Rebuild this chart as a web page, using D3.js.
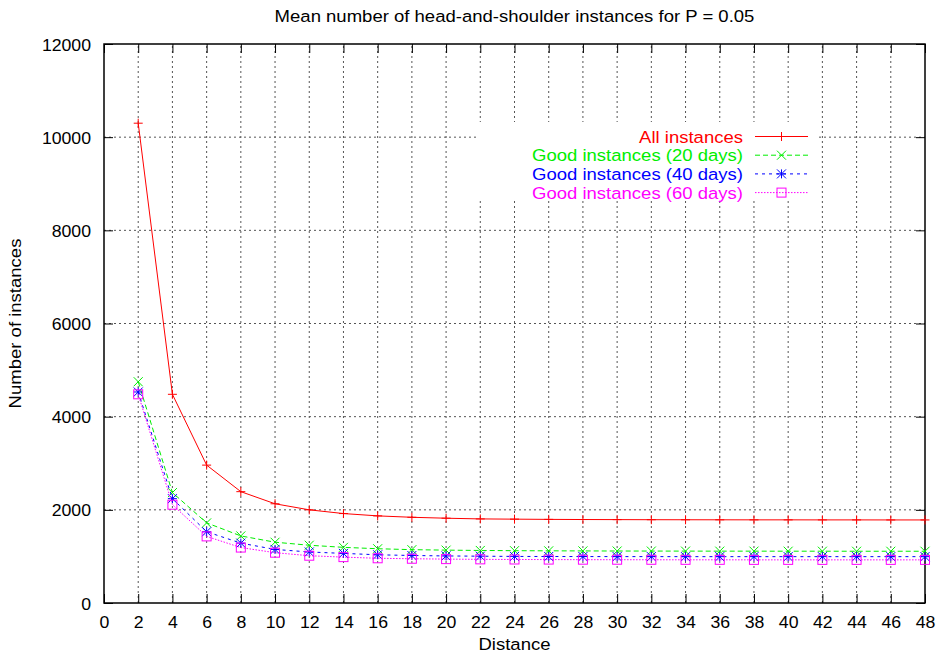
<!DOCTYPE html>
<html>
<head>
<meta charset="utf-8">
<script src="https://cdn.jsdelivr.net/npm/d3@7"></script>
<style>
  html, body { margin: 0; padding: 0; background: #fff; }
  svg { display: block; font-family: "Liberation Sans", Arial, Helvetica, sans-serif; }
</style>
</head>
<body>
<svg id="chart" width="939" height="662"></svg>
<script>
// Distances sampled (x axis)
const distances = [2, 4, 6, 8, 10, 12, 14, 16, 18, 20, 22, 24, 26, 28, 30, 32, 34, 36, 38, 40, 42, 44, 46, 48];

// Mean number of instances per distance
const allInstances = [10300, 4480, 2960, 2390, 2130, 2000, 1920, 1870, 1840, 1820, 1805, 1800, 1795, 1792, 1790, 1788, 1787, 1786, 1785, 1785, 1784, 1784, 1783, 1783];
const good20 = [4750, 2370, 1720, 1440, 1305, 1240, 1195, 1165, 1145, 1135, 1128, 1123, 1120, 1118, 1116, 1115, 1114, 1113, 1113, 1112, 1112, 1111, 1111, 1111];
const good40 = [4530, 2240, 1530, 1285, 1150, 1095, 1065, 1035, 1020, 1010, 1005, 1000, 998, 997, 996, 996, 995, 995, 995, 995, 995, 995, 995, 995];
const good60 = [4480, 2110, 1430, 1190, 1080, 1015, 985, 960, 950, 942, 937, 934, 932, 930, 929, 928, 927, 927, 926, 926, 926, 926, 926, 926];

const seriesNames = ["All instances", "Good instances (20 days)", "Good instances (40 days)", "Good instances (60 days)"];

// Tick labels
const xTicks = d3.range(0, 49, 2);
const yTicks = [0, 2000, 4000, 6000, 8000, 10000, 12000];

const titleText = "Mean number of head-and-shoulder instances for P = 0.05";
const xLabel = "Distance";
const yLabel = "Number of instances";

const series = [
  { name: seriesNames[0], values: allInstances, color: "#ff0000", dash: null,  marker: "plus" },
  { name: seriesNames[1], values: good20,       color: "#00ee00", dash: "5,3", marker: "cross" },
  { name: seriesNames[2], values: good40,       color: "#0000ff", dash: "3,4", marker: "star" },
  { name: seriesNames[3], values: good60,       color: "#ff00ff", dash: "1.5,1.5", marker: "square" }
];

const svg = d3.select("#chart");
const margin = { left: 104, right: 14, top: 44, bottom: 59 };
const W = 939, H = 662;
const x0 = margin.left, x1 = W - margin.right, y0 = H - margin.bottom, y1 = margin.top;

const x = d3.scaleLinear().domain([0, 48]).range([x0, x1]);
const y = d3.scaleLinear().domain([0, 12000]).range([y0, y1]);

const fontSize = 17;
const stretch = 1.09;      // wide face for titles and key
const tickStretch = 1.04;  // digits are only slightly wider

// Grid
const grid = svg.append("g").attr("stroke", "#555").attr("stroke-width", 1).attr("stroke-dasharray", "2,3");
xTicks.filter(t => t > 0 && t < 48).forEach(t => {
  grid.append("line").attr("x1", x(t)).attr("x2", x(t)).attr("y1", y0).attr("y2", y1);
});
yTicks.filter(t => t > 0 && t < 12000).forEach(t => {
  grid.append("line").attr("x1", x0).attr("x2", x1).attr("y1", y(t)).attr("y2", y(t));
});

// Axes with mirrored inward ticks
const tickLen = 9;
const axisBottom = d3.axisBottom(x).tickValues(xTicks).tickSize(-tickLen).tickFormat(d3.format("d"));
const axisTop = d3.axisTop(x).tickValues(xTicks).tickSize(-tickLen).tickFormat("");
const axisLeft = d3.axisLeft(y).tickValues(yTicks).tickSize(-tickLen).tickFormat(d3.format("d"));
const axisRight = d3.axisRight(y).tickValues(yTicks).tickSize(-tickLen).tickFormat("");

function styleAxis(g) {
  g.select(".domain").remove();
  g.selectAll(".tick line").attr("stroke", "#000").attr("stroke-width", 1);
  g.selectAll(".tick text").attr("fill", "#000").style("font-size", fontSize + "px").style("font-family", "Liberation Sans, Arial, sans-serif");
}

const gb = svg.append("g").attr("transform", `translate(0,${y0})`).call(axisBottom).call(styleAxis);
gb.selectAll(".tick text").attr("dy", null).attr("x", null).attr("y", null)
  .attr("transform", `translate(0,25) scale(${tickStretch},1)`);
svg.append("g").attr("transform", `translate(0,${y1})`).call(axisTop).call(styleAxis);
const gl = svg.append("g").attr("transform", `translate(${x0},0)`).call(axisLeft).call(styleAxis);
gl.selectAll(".tick text").attr("x", null).attr("dy", "0.36em")
  .attr("transform", `translate(-13,0) scale(${tickStretch},1)`);
svg.append("g").attr("transform", `translate(${x1},0)`).call(axisRight).call(styleAxis);

// Frame
svg.append("rect").attr("x", x0).attr("y", y1).attr("width", x1 - x0).attr("height", y0 - y1)
  .attr("fill", "none").attr("stroke", "#000").attr("stroke-width", 1.5);

// Markers
function drawMarker(g, type, cx, cy, color) {
  const r = 4.5;
  const m = g.append("g").attr("stroke", color).attr("stroke-width", 1).attr("fill", "none");
  if (type === "plus" || type === "star") {
    m.append("line").attr("x1", cx - r).attr("x2", cx + r).attr("y1", cy).attr("y2", cy);
    m.append("line").attr("x1", cx).attr("x2", cx).attr("y1", cy - r).attr("y2", cy + r);
  }
  if (type === "cross" || type === "star") {
    m.append("line").attr("x1", cx - r).attr("x2", cx + r).attr("y1", cy - r).attr("y2", cy + r);
    m.append("line").attr("x1", cx - r).attr("x2", cx + r).attr("y1", cy + r).attr("y2", cy - r);
  }
  if (type === "square") {
    m.append("rect").attr("x", cx - r).attr("y", cy - r).attr("width", 2 * r).attr("height", 2 * r);
  }
}

// Key box (opaque, hides grid behind it)
const keyTop = 122, keyBottom = 201, keyLeft = 476, keyRight = 817;
svg.append("rect").attr("x", keyLeft).attr("y", keyTop).attr("width", keyRight - keyLeft).attr("height", keyBottom - keyTop).attr("fill", "#fff");

// Series lines and points
const line = d3.line().x((d, i) => x(distances[i])).y(d => y(d));
const plot = svg.append("g");
series.forEach(s => {
  plot.append("path").datum(s.values).attr("d", line)
    .attr("fill", "none").attr("stroke", s.color).attr("stroke-width", 1)
    .attr("stroke-dasharray", s.dash);
  s.values.forEach((v, i) => drawMarker(plot, s.marker, x(distances[i]), y(v), s.color));
});

// Legend
const keyRowY = [136.5, 155.2, 173.9, 192.6];
const key = svg.append("g");
series.forEach((s, i) => {
  const cy = keyRowY[i];
  key.append("text").attr("transform", `translate(743,${cy}) scale(${stretch},1)`).attr("dy", "0.36em").attr("text-anchor", "end")
    .attr("fill", s.color).style("font-size", fontSize + "px").text(s.name);
  key.append("line").attr("x1", 755).attr("x2", 808).attr("y1", cy).attr("y2", cy)
    .attr("stroke", s.color).attr("stroke-width", 1).attr("stroke-dasharray", s.dash);
  drawMarker(key, s.marker, 781.5, cy, s.color);
});

// Titles
svg.append("text").attr("transform", `translate(${(x0 + x1) / 2},22) scale(${stretch},1)`).attr("text-anchor", "middle")
  .style("font-size", fontSize + "px").text(titleText);
svg.append("text").attr("transform", `translate(${(x0 + x1) / 2},650) scale(${stretch},1)`).attr("text-anchor", "middle")
  .style("font-size", fontSize + "px").text(xLabel);
svg.append("text").attr("transform", `translate(21,${(y0 + y1) / 2}) rotate(-90) scale(${stretch},1)`).attr("text-anchor", "middle")
  .style("font-size", fontSize + "px").text(yLabel);
</script>
</body>
</html>
